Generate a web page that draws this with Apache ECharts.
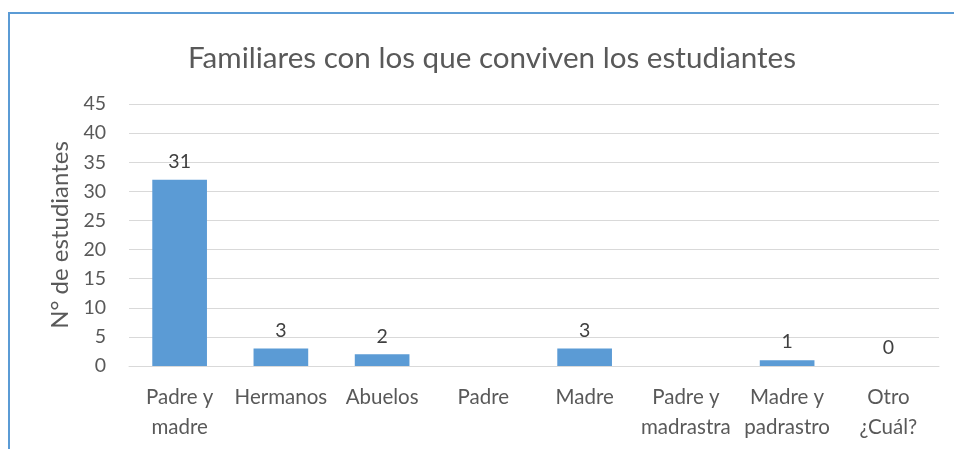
<!DOCTYPE html>
<html>
<head>
<meta charset="utf-8">
<script src="https://cdn.jsdelivr.net/npm/echarts@6/dist/echarts.min.js"></script>
<style>
html,body{margin:0;padding:0;background:#fff;}
#c{width:954px;height:449px;}
</style>
</head>
<body>
<div id="c"></div>
<script>
const titleText = 'Familiares con los que conviven los estudiantes';
const yAxisName = 'N° de estudiantes';
const categories = ['Padre y\nmadre', 'Hermanos', 'Abuelos', 'Padre', 'Madre', 'Padre y\nmadrastra', 'Madre y\npadrastro', 'Otro\n¿Cuál?'];
const values = [32, 3, 2, null, 3, null, 1, 0];
const dataLabels = ['31', '3', '2', '', '3', '', '1', '0'];
const yTicks = [0, 5, 10, 15, 20, 25, 30, 35, 40, 45];

const FONT = 'Lato';
const chart = echarts.init(document.getElementById('c'));
chart.setOption({
  backgroundColor: '#fff',
  animation: false,
  title: {
    text: titleText,
    left: 487, top: 38, textAlign: 'center',
    textStyle: {fontFamily: FONT, fontSize: 29.6, fontWeight: 'normal', color: '#595959'}
  },
  graphic: [{
    type: 'polyline',
    shape: {points: [[9, 449], [9, 13], [954, 13]]},
    style: {stroke: '#5B9BD5', lineWidth: 2, fill: null}
  }],
  grid: {left: 129, right: 15, top: 104, bottom: 83, containLabel: false},
  xAxis: {
    type: 'category',
    data: categories,
    axisLine: {lineStyle: {color: '#D9D9D9', width: 1}},
    axisTick: {show: false},
    axisLabel: {fontFamily: FONT, fontSize: 20.5, color: '#595959', lineHeight: 30, margin: 16, interval: 0}
  },
  yAxis: {
    type: 'value',
    min: yTicks[0], max: yTicks[yTicks.length - 1], interval: 5,
    name: yAxisName,
    nameLocation: 'middle',
    nameGap: 57,
    nameTextStyle: {fontFamily: FONT, fontSize: 24, color: '#595959'},
    axisLine: {show: false},
    axisTick: {show: false},
    splitLine: {lineStyle: {color: '#D9D9D9', width: 1}},
    axisLabel: {fontFamily: FONT, fontSize: 19.5, color: '#595959', margin: 23}
  },
  series: [{
    type: 'bar',
    data: values,
    barWidth: '54%',
    itemStyle: {color: '#5B9BD5', borderWidth: 0},
    label: {
      show: true, position: 'top', distance: 8,
      fontFamily: FONT, fontSize: 19.5, color: '#404040',
      formatter: p => dataLabels[p.dataIndex]
    }
  }]
});
</script>
</body>
</html>
